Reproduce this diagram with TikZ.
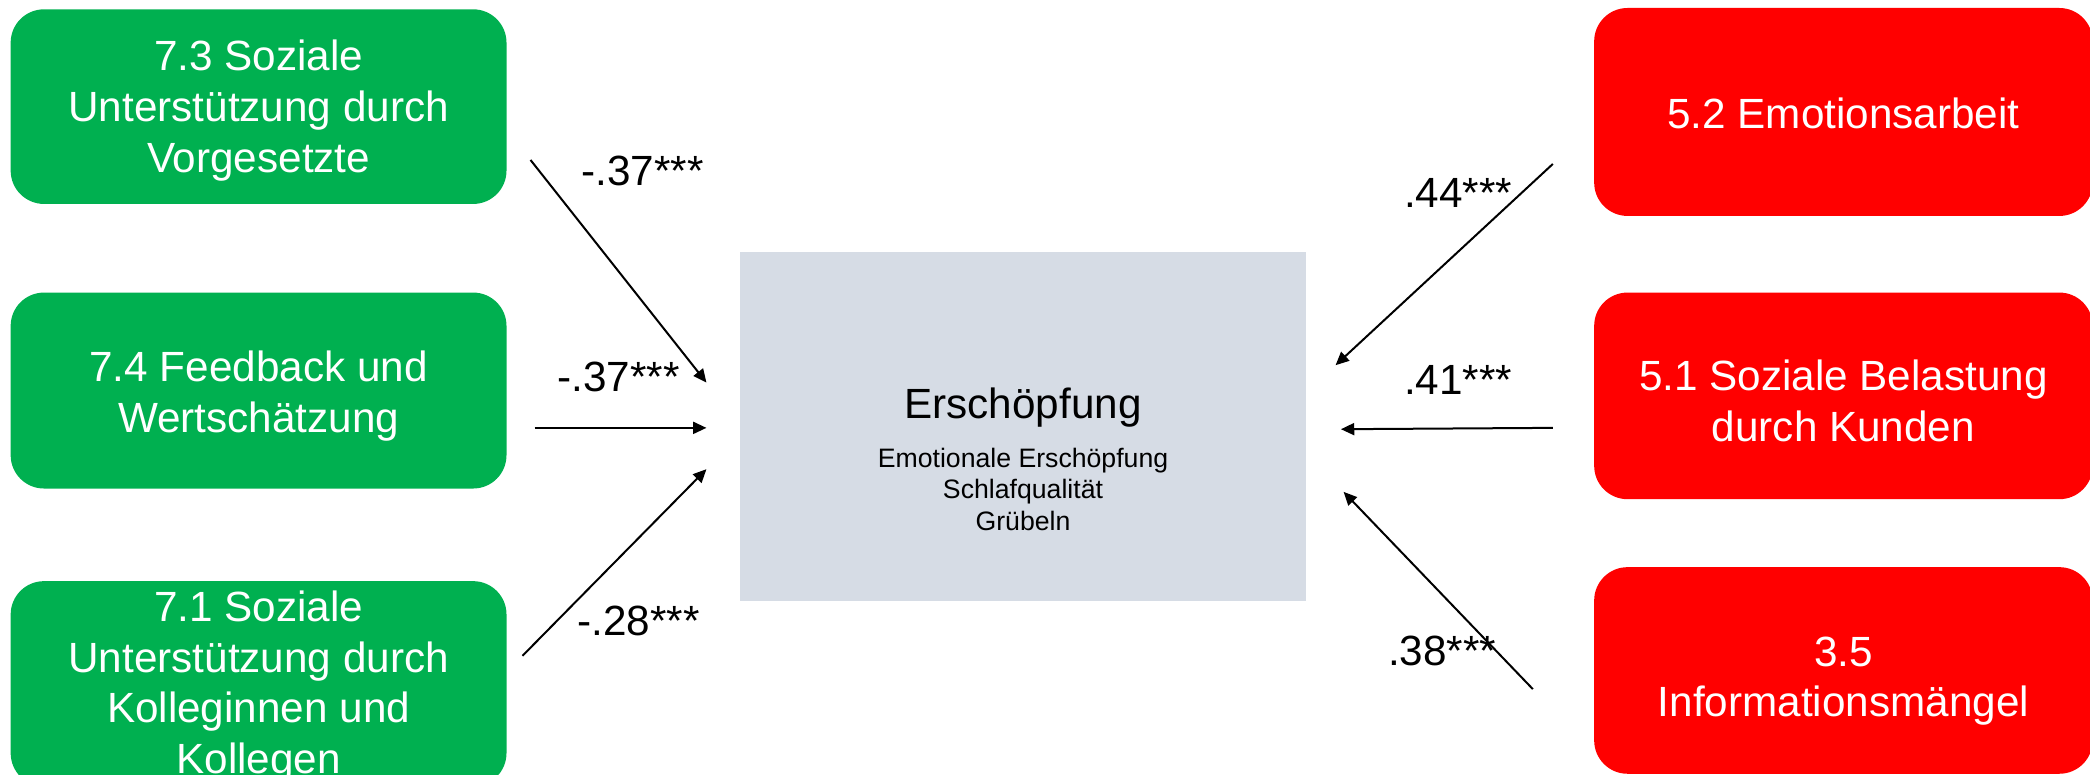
\documentclass[tikz,border=0pt]{standalone}
\usepackage{fontspec}
\setmainfont{Liberation Sans}
\usetikzlibrary{arrows.meta}
\definecolor{grn}{HTML}{00B050}
\definecolor{rd}{HTML}{FF0000}
\definecolor{cbox}{HTML}{D6DCE5}
\begin{document}
\begin{tikzpicture}[x=1pt,y=-1pt,
  box/.style={rounded corners=25pt, minimum width=372pt, inner sep=0pt},
  btext/.style={text=white, align=center, font=\fontsize{31.7}{38}\selectfont, inner sep=0pt},
  gbox/.style={box, fill=grn},
  rbox/.style={box, fill=rd, minimum width=374pt},
  lbl/.style={font=\fontsize{31.7}{38}\selectfont, inner sep=0pt},
  arr/.style={line width=1.5pt, -{Triangle[length=10pt,width=9pt]}}]
\useasboundingbox (0,0) rectangle (1568,581);
% left boxes
\node[gbox, minimum height=146pt,
  label={[btext, yshift=-3pt]center:{7.3 Soziale\\Unterstützung durch\\Vorgesetzte}}] (g1) at (194,80) {};
\node[gbox, minimum height=147pt,
  label={[btext, yshift=-4pt]center:{7.4 Feedback und\\Wertschätzung}}] (g2) at (194,293) {};
\node[gbox, minimum height=154pt,
  label={[btext, yshift=-2pt]center:{7.1 Soziale\\Unterstützung durch\\Kolleginnen und\\Kollegen}}] (g3) at (194,513) {};
% right boxes
\node[rbox, minimum height=156pt,
  label={[btext, yshift=-1pt]center:{5.2 Emotionsarbeit}}] (r1) at (1383,84) {};
\node[rbox, minimum height=155pt,
  label={[btext, yshift=-4pt]center:{5.1 Soziale Belastung\\durch Kunden}}] (r2) at (1383,297) {};
\node[rbox, minimum height=155pt,
  label={[btext, yshift=-8pt]center:{3.5\\Informationsmängel}}] (r3) at (1383,503) {};
% centre
\node[fill=cbox, minimum width=425pt, minimum height=262pt, inner sep=0pt] (c) at (767.5,320) {};
\node[lbl] (ct) at (767.5,306) {Erschöpfung};
\node[font=\fontsize{20}{23.5}\selectfont, align=center, inner sep=0pt] (cs) at (767.5,367)
  {Emotionale Erschöpfung\\Schlafqualität\\Grübeln};
% arrow end points
\coordinate (a1s) at (398,120); \coordinate (a1e) at (530,287);
\coordinate (a2s) at (401,321); \coordinate (a2e) at (530,321);
\coordinate (a3s) at (392,492); \coordinate (a3e) at (530,352);
\coordinate (b1s) at (1165,123); \coordinate (b1e) at (1002,274);
\coordinate (b2s) at (1165,321); \coordinate (b2e) at (1006,322);
\coordinate (b3s) at (1150,517); \coordinate (b3e) at (1008,369);
\draw[arr] (a1s) -- (a1e);
\draw[arr] (a2s) -- (a2e);
\draw[arr] (a3s) -- (a3e);
\draw[arr] (b1s) -- (b1e);
\draw[arr] (b2s) -- (b2e);
\draw[arr] (b3s) -- (b3e);
% labels
\node[lbl] (l1) at (482,128) {-.37***};
\node[lbl] (l2) at (464,283) {-.37***};
\node[lbl] (l3) at (479,466) {-.28***};
\node[lbl] (m1) at (1094,145) {.44***};
\node[lbl] (m2) at (1094,285) {.41***};
\node[lbl] (m3) at (1082,488) {.38***};
\end{tikzpicture}
\end{document}
